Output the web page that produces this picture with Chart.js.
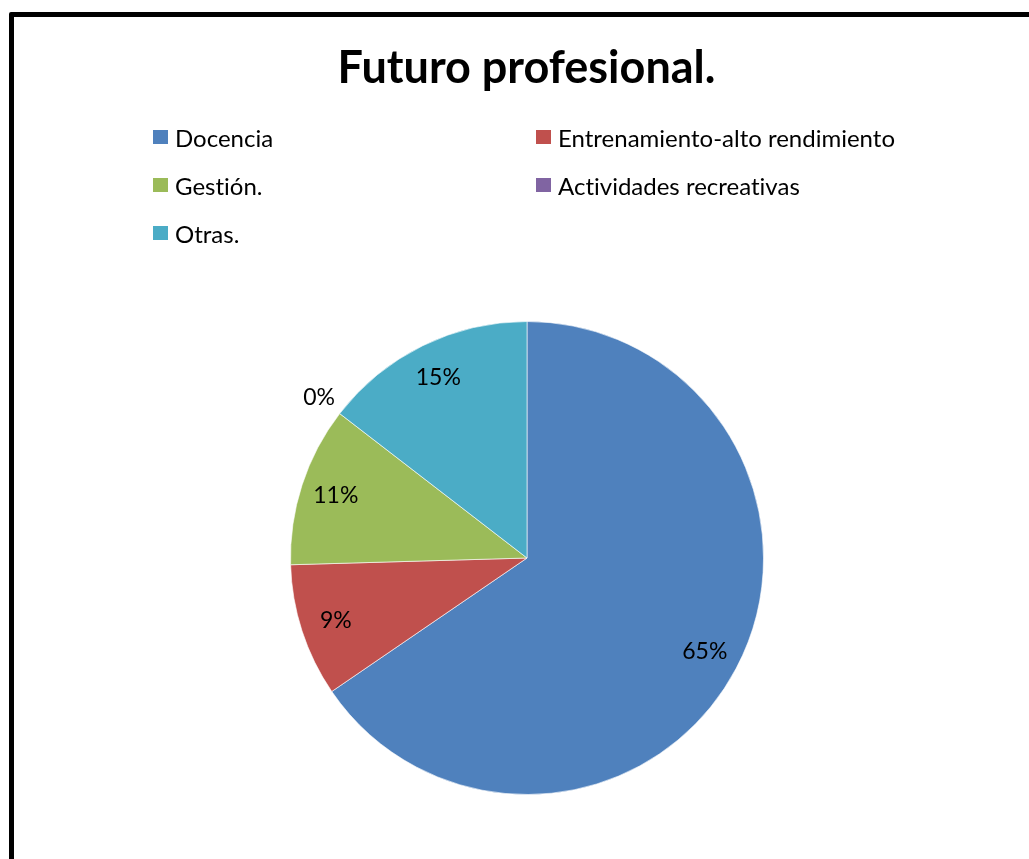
<!DOCTYPE html>
<html>
<head>
<meta charset="utf-8">
<script src="https://cdn.jsdelivr.net/npm/chart.js@4"></script>
<style>
  html, body { margin:0; padding:0; background:#fff; overflow:hidden; }
  body { width:1029px; height:859px; position:relative; font-family: Lato, "Open Sans", sans-serif; font-variant-ligatures:none; }
  #frame { position:absolute; left:9px; top:12px; width:1100px; height:900px; border:5px solid #000; border-radius:2px; box-sizing:border-box; }
  #chart { position:absolute; left:0; top:0; }
  #title { position:absolute; left:0; width:1053px; top:38px; text-align:center; font-weight:bold; font-size:45px; color:#000; line-height:56px; }
  #legend { position:absolute; left:153px; top:123px; display:grid; grid-template-columns:383px 400px; grid-auto-rows:48px; font-size:24px; color:#000; }
  .item { display:flex; align-items:center; height:28px; white-space:nowrap; }
  .box { width:15px; height:14px; margin-right:7px; flex:none; }
</style>
</head>
<body>
<div id="frame"></div>
<canvas id="chart" width="1029" height="859"></canvas>
<div id="title">Futuro profesional.</div>
<div id="legend"></div>
<script>
const categories = ['Docencia', 'Entrenamiento-alto rendimiento', 'Gestión.', 'Actividades recreativas', 'Otras.'];
const counts = [36, 5, 6, 0, 8];
const colors = ['#4F81BD', '#C0504D', '#9BBB59', '#8064A2', '#4BACC6'];

const total = counts.reduce((a, b) => a + b, 0);
const pct = v => Math.round(v / total * 100) + '%';

document.getElementById('legend').innerHTML = categories.map((c, i) => `
  <div class="item"><span class="box" style="background:${colors[i]}"></span>${c}</div>`).join('');

// percentage labels inside each slice, empty slices pushed just outside the rim
const sliceLabels = {
  id: 'sliceLabels',
  afterDatasetsDraw(chart){
    const ctx = chart.ctx;
    const meta = chart.getDatasetMeta(0);
    ctx.save();
    ctx.font = '23px Lato, "Open Sans", sans-serif';
    ctx.fillStyle = '#000';
    ctx.textAlign = 'center';
    ctx.textBaseline = 'middle';
    meta.data.forEach((arc, i) => {
      const p = arc.getProps(['x', 'y', 'startAngle', 'endAngle', 'outerRadius'], true);
      const mid = (p.startAngle + p.endAngle) / 2;
      const r = counts[i] === 0 ? p.outerRadius * 1.11 : p.outerRadius * 0.85;
      ctx.fillText(pct(counts[i]), p.x + Math.cos(mid) * r, p.y + Math.sin(mid) * r);
    });
    ctx.restore();
  }
};

new Chart(document.getElementById('chart'), {
  type: 'pie',
  data: {
    labels: categories,
    datasets: [{ data: counts, backgroundColor: colors, borderColor: 'rgba(255,255,255,0.6)', borderWidth: 1 }]
  },
  options: {
    responsive: false,
    animation: false,
    layout: { padding: { top: 321, bottom: 64, left: 290, right: 265 } },
    plugins: { legend: { display: false }, tooltip: { enabled: false } }
  },
  plugins: [sliceLabels]
});
</script>
</body>
</html>
